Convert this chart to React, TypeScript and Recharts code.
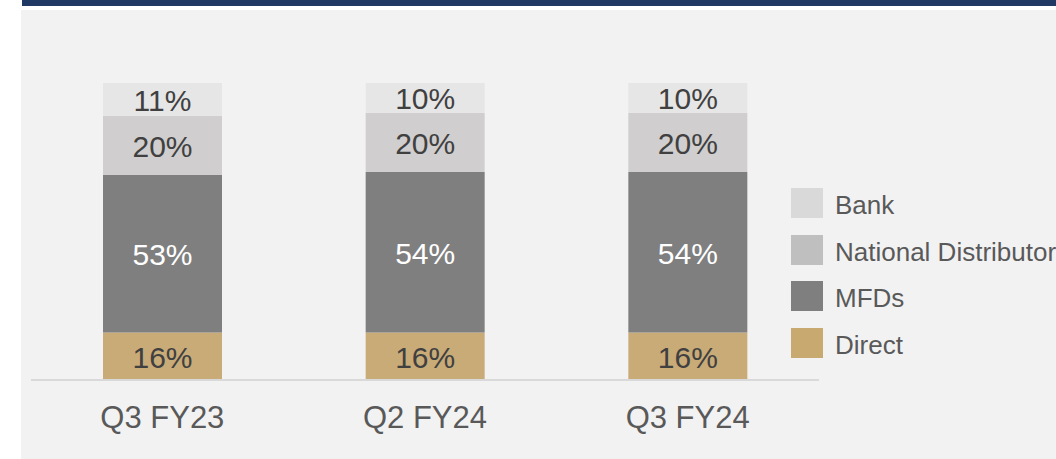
import React from "react";
import { BarChart, Bar, XAxis, YAxis, LabelList } from "recharts";

const categories = ["Q3 FY23", "Q2 FY24", "Q3 FY24"];
const direct = [16, 16, 16];
const mfds = [53, 54, 54];
const national = [20, 20, 20];
const bank = [11, 10, 10];

const seriesNames = ["Bank", "National Distributor", "MFDs", "Direct"];
const barColors: Record<string, string> = {
  Bank: "#e7e6e6",
  "National Distributor": "#d0cece",
  MFDs: "#7f7f7f",
  Direct: "#c9ab78",
};
const legendColors: Record<string, string> = {
  Bank: "#d9d9d9",
  "National Distributor": "#bfbfbf",
  MFDs: "#7f7f7f",
  Direct: "#c8a96f",
};
const labelColors: Record<string, string> = {
  Bank: "#404040",
  "National Distributor": "#404040",
  MFDs: "#ffffff",
  Direct: "#404040",
};

const data = categories.map((c, i) => ({
  name: c,
  Direct: direct[i],
  MFDs: mfds[i],
  "National Distributor": national[i],
  Bank: bank[i],
}));

const FONT = "'Liberation Sans', Arial, Helvetica, sans-serif";

const makeLabel = (color: string) => (props: any) => {
  const { x, y, width, height, value } = props;
  return (
    <text
      x={x + width / 2}
      y={y + height / 2 + 1}
      textAnchor="middle"
      dominantBaseline="central"
      fill={color}
      fontSize={30}
      fontFamily={FONT}
    >
      {value}%
    </text>
  );
};

const Tick = (props: any) => {
  const { x, y, payload } = props;
  return (
    <text x={x} y={y + 40} textAnchor="middle" fill="#595959" fontSize={31} fontFamily={FONT}>
      {payload.value}
    </text>
  );
};

const LegendBlock = () => (
  <div style={{ position: "absolute", left: 791, top: 188, fontFamily: FONT }}>
    {seriesNames.map((n) => (
      <div key={n} style={{ display: "flex", alignItems: "center", height: 30, marginBottom: 16.7, whiteSpace: "nowrap" }}>
        <div style={{ width: 32, height: 30, background: legendColors[n], marginRight: 12, flexShrink: 0 }} />
        <span style={{ fontSize: 26, color: "#595959", lineHeight: "30px", position: "relative", top: 2 }}>{n}</span>
      </div>
    ))}
  </div>
);

export default function App() {
  const stackOrder = ["Direct", "MFDs", "National Distributor", "Bank"];
  return (
    <div style={{ position: "absolute", left: 0, top: 0, width: 1056, height: 459, overflow: "hidden", background: "#ffffff" }}>
      <div style={{ position: "absolute", left: 22, top: 0, width: 1034, height: 6, background: "#1f3864" }} />
      <div style={{ position: "absolute", left: 21, top: 10, width: 1035, height: 449, background: "#f2f2f2" }} />
      <div style={{ position: "absolute", left: 0, top: 0 }}>
        <BarChart width={1056} height={459} data={data} margin={{ top: 83, right: 237, bottom: 0, left: 31 }}>
          <XAxis
            dataKey="name"
            height={79}
            tickLine={false}
            axisLine={{ stroke: "#d9d9d9", strokeWidth: 2 }}
            tick={<Tick />}
            interval={0}
          />
          <YAxis hide domain={[0, 100]} />
          {stackOrder.map((k) => (
            <Bar key={k} dataKey={k} stackId="a" fill={barColors[k]} barSize={119} isAnimationActive={false}>
              <LabelList dataKey={k} content={makeLabel(labelColors[k])} />
            </Bar>
          ))}
        </BarChart>
      </div>
      <LegendBlock />
    </div>
  );
}
